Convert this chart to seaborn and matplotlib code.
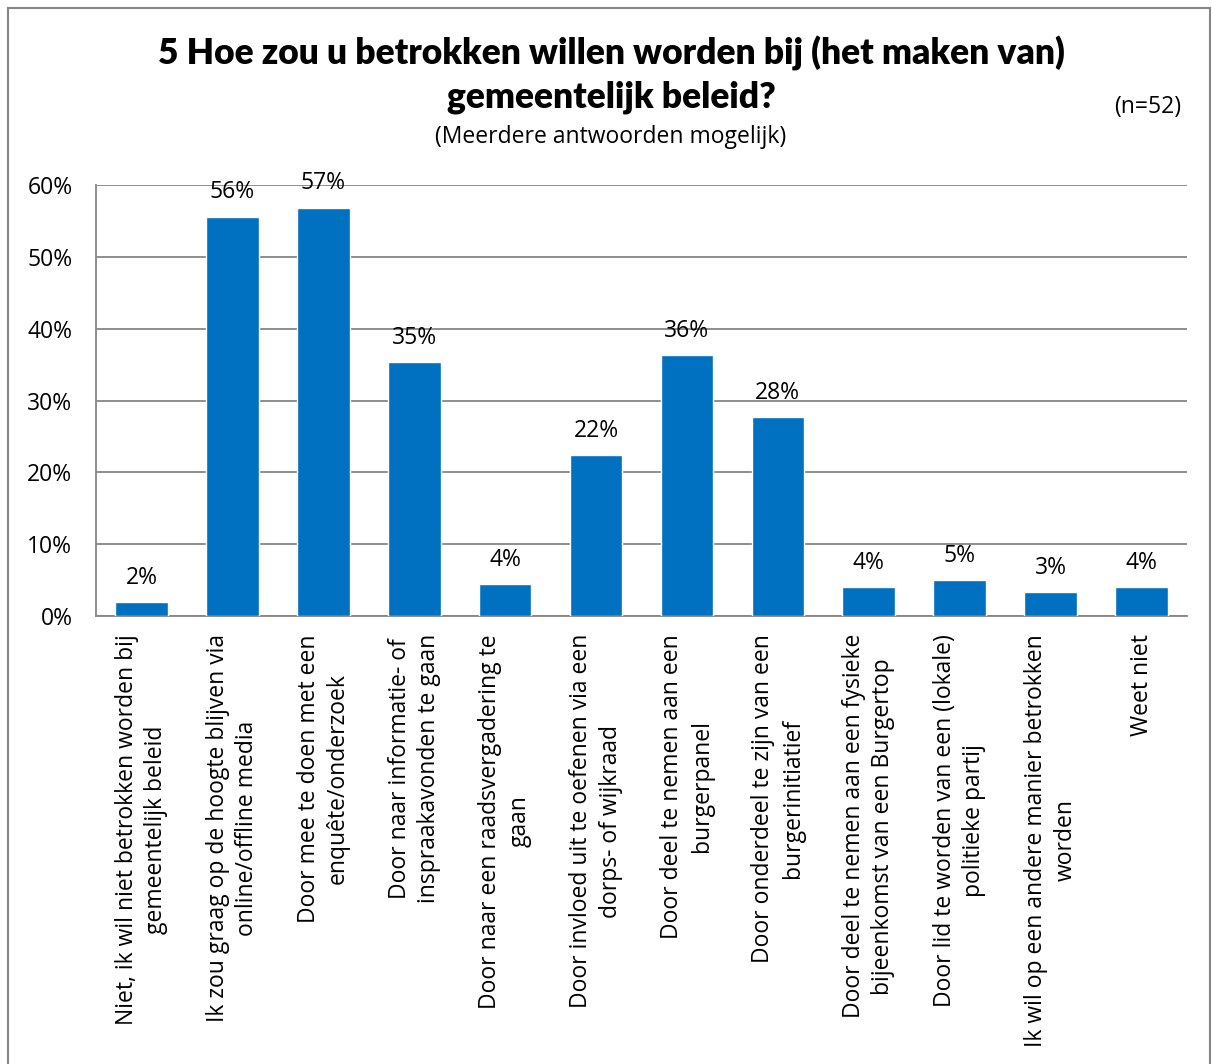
import numpy as np
import pandas as pd
import seaborn as sns
import matplotlib.pyplot as plt
from matplotlib.patches import Rectangle
from matplotlib.ticker import FixedLocator

# answers (labels wrapped as in the original chart) and percentages
answers = [
    "Niet, ik wil niet betrokken worden bij\ngemeentelijk beleid",
    "Ik zou graag op de hoogte blijven via\nonline/offline media",
    "Door mee te doen met een\nenquête/onderzoek",
    "Door naar informatie- of\ninspraakavonden te gaan",
    "Door naar een raadsvergadering te\ngaan",
    "Door invloed uit te oefenen via een\ndorps- of wijkraad",
    "Door deel te nemen aan een\nburgerpanel",
    "Door onderdeel te zijn van een\nburgerinitiatief",
    "Door deel te nemen aan een fysieke\nbijeenkomst van een Burgertop",
    "Door lid te worden van een (lokale)\npolitieke partij",
    "Ik wil op een andere manier betrokken\nworden",
    "Weet niet",
]
percent = [1.9, 55.6, 56.8, 35.3, 4.4, 22.4, 36.3, 27.7, 4.0, 5.0, 3.3, 4.0]
y_ticks = [0, 10, 20, 30, 40, 50, 60]

title = "5 Hoe zou u betrokken willen worden bij (het maken van)\ngemeentelijk beleid?"
subtitle = "(Meerdere antwoorden mogelijk)"
n_note = "(n=52)"

df = pd.DataFrame({"answer": answers, "percent": percent})

sns.set_style("white")
plt.rcParams["font.family"] = ["Open Sans", "DejaVu Sans"]
plt.rcParams["text.color"] = "black"
plt.rcParams["xtick.color"] = "black"
plt.rcParams["ytick.color"] = "black"

fig = plt.figure(figsize=(12.12, 10.64), dpi=100)
ax = fig.add_axes([96 / 1212, 1 - 616 / 1064, (1187 - 96) / 1212, (616 - 185) / 1064])

sns.barplot(data=df, x="answer", y="percent", color="#0070C0", saturation=1,
            width=0.58, ax=ax, zorder=3)

grey = "#868686"
ax.set_ylim(0, 60)
ax.set_xlim(-0.5, len(answers) - 0.5)
ax.set_yticks(y_ticks)
ax.set_yticklabels([f"{t}%" for t in y_ticks], fontsize=16.5)
ax.yaxis.grid(True, color=grey, linewidth=1.3, zorder=0)
ax.set_xlabel("")
ax.set_ylabel("")

# category labels, rotated, centred lines
ax.set_xticks(range(len(answers)))
ax.set_xticklabels(answers, rotation=90, fontsize=16.5, va="top", ha="center",
                   multialignment="center", linespacing=1.3)
ax.tick_params(axis="x", which="major", length=0, pad=13, colors="black")
ax.xaxis.set_minor_locator(FixedLocator(np.arange(-0.5, len(answers), 1)))
ax.tick_params(axis="x", which="minor", length=8, color=grey, width=1.3)
ax.tick_params(axis="y", length=9, color=grey, labelcolor="black", width=1.3, pad=8)

for side in ["top", "right"]:
    ax.spines[side].set_visible(False)
for side in ["left", "bottom"]:
    ax.spines[side].set_color(grey)
    ax.spines[side].set_linewidth(1.3)

# data labels
for i, v in enumerate(percent):
    ax.annotate(f"{round(v)}%", (i, v), xytext=(0, 9), textcoords="offset points",
                ha="center", va="bottom", fontsize=16.5, color="black")

fig.text(611 / 1212, 1 - 75 / 1064, title, ha="center", va="center", fontsize=25.5,
         fontweight="heavy", family=["Lato", "DejaVu Sans"], linespacing=1.35,
         color="black")
fig.text(611 / 1212, 1 - 137 / 1064, subtitle, ha="center", va="center", fontsize=16.5)
fig.text(1148 / 1212, 1 - 107 / 1064, n_note, ha="center", va="center", fontsize=16.5)

# outer chart border
fig.patches.append(Rectangle((8 / 1212, -0.01), 1 - 10 / 1212, 1 - 8 / 1064 + 0.01,
                             transform=fig.transFigure, fill=False,
                             edgecolor=grey, linewidth=1.5))

fig.savefig("out.png", dpi=100)
